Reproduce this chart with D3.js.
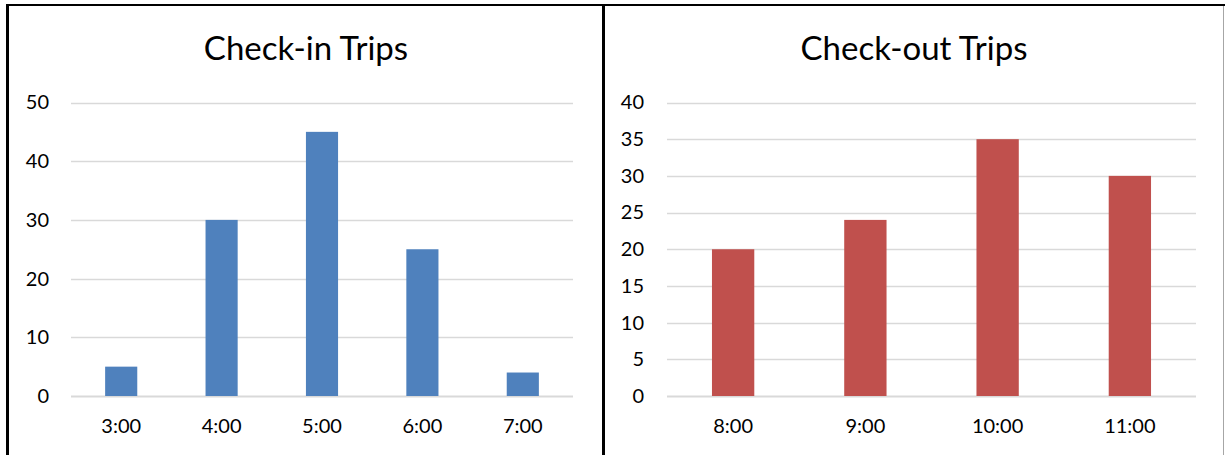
<!DOCTYPE html>
<html lang="en">
<head>
    <meta charset="UTF-8">
    <title>Trips</title>
    <script src="https://d3js.org/d3.v7.min.js"></script>
    <style>
        body { margin: 0; background: #fff; }
        svg { display: block; }
    </style>
</head>
<body>
    <svg id="chart" width="1225" height="455"></svg>
    <script>
        // data
        const checkinHours = ['3:00', '4:00', '5:00', '6:00', '7:00'];
        const checkinTrips = [5, 30, 45, 25, 4];
        const checkinTicks = [0, 10, 20, 30, 40, 50];

        const checkoutHours = ['8:00', '9:00', '10:00', '11:00'];
        const checkoutTrips = [20, 24, 35, 30];
        const checkoutTicks = [0, 5, 10, 15, 20, 25, 30, 35, 40];

        const svg = d3.select('#chart');
        const font = 'Lato, "Open Sans", sans-serif';

        // panel frames
        svg.append('line').attr('x1', 6).attr('x2', 1225).attr('y1', 5).attr('y2', 5)
            .attr('stroke', '#000').attr('stroke-width', 2);
        svg.append('line').attr('x1', 7.5).attr('x2', 7.5).attr('y1', 4).attr('y2', 455)
            .attr('stroke', '#000').attr('stroke-width', 3);
        svg.append('line').attr('x1', 603.5).attr('x2', 603.5).attr('y1', 4).attr('y2', 455)
            .attr('stroke', '#000').attr('stroke-width', 3);
        svg.append('line').attr('x1', 1223.5).attr('x2', 1223.5).attr('y1', 6).attr('y2', 455)
            .attr('stroke', '#a6a6a6').attr('stroke-width', 1);

        function drawPanel(opts) {
            const g = svg.append('g');

            const x = d3.scaleBand()
                .domain(opts.cats)
                .range([opts.x0, opts.x1])
                .paddingInner(0.68)
                .paddingOuter(0.34);

            const y = d3.scaleLinear()
                .domain([0, opts.max])
                .range([396, 102.5]);

            // title
            g.append('text')
                .attr('x', opts.titleX)
                .attr('y', 60)
                .attr('text-anchor', 'middle')
                .attr('font-family', font)
                .attr('font-size', '33px')
                .attr('fill', '#000')
                .text(opts.title);

            // gridlines
            g.selectAll('.grid')
                .data(opts.ticks)
                .enter().append('line')
                .attr('x1', opts.x0)
                .attr('x2', opts.x1)
                .attr('y1', d => Math.round(y(d)) + 0.5)
                .attr('y2', d => Math.round(y(d)) + 0.5)
                .attr('stroke', '#d9d9d9')
                .attr('stroke-width', d => d === 0 ? 2 : 1.5);

            // y labels
            const yAxis = g.append('g')
                .attr('transform', `translate(${opts.labelX}, 0)`)
                .call(d3.axisLeft(y).tickValues(opts.ticks).tickSize(0).tickPadding(0));
            yAxis.select('.domain').remove();
            yAxis.selectAll('text')
                .attr('font-family', font)
                .attr('font-size', '20px')
                .attr('fill', '#000');

            // bars
            g.selectAll('.bar')
                .data(opts.values)
                .enter().append('rect')
                .attr('x', (d, i) => x(opts.cats[i]))
                .attr('y', d => y(d))
                .attr('width', x.bandwidth())
                .attr('height', d => y(0) - y(d))
                .attr('fill', opts.color);

            // x labels
            const xAxis = g.append('g')
                .attr('transform', 'translate(0, 419)')
                .call(d3.axisBottom(x).tickSize(0).tickPadding(0));
            xAxis.select('.domain').remove();
            xAxis.selectAll('text')
                .attr('font-family', font)
                .attr('font-size', '20px')
                .attr('fill', '#000');
        }

        drawPanel({
            title: 'Check-in Trips', titleX: 306,
            cats: checkinHours, values: checkinTrips, ticks: checkinTicks, max: 50,
            x0: 71, x1: 573, labelX: 49, color: '#4f81bd'
        });

        drawPanel({
            title: 'Check-out Trips', titleX: 914,
            cats: checkoutHours, values: checkoutTrips, ticks: checkoutTicks, max: 40,
            x0: 667, x1: 1196, labelX: 644, color: '#c0504d'
        });
    </script>
</body>
</html>
